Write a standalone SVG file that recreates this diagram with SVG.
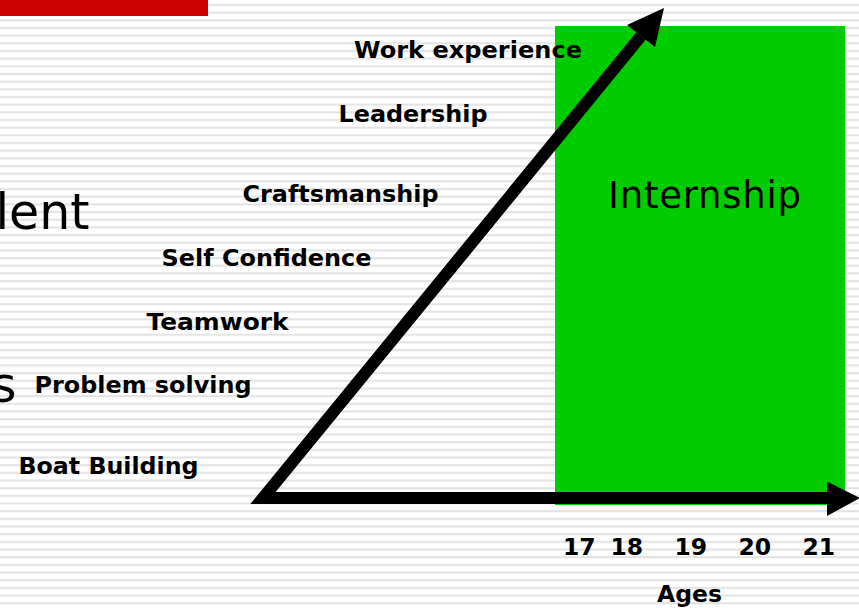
<svg xmlns="http://www.w3.org/2000/svg" width="859" height="608" viewBox="0 0 859 608">
<style>
.lbl{font-family:"DejaVu Sans","Verdana",sans-serif;font-weight:bold;font-size:23.5px;fill:#000}
.big{font-family:"DejaVu Sans","Verdana",sans-serif;font-weight:normal;fill:#000}
.ax{fill:none;stroke:#000;stroke-width:12;stroke-linejoin:miter;stroke-miterlimit:4}
</style>
<defs>
<pattern id="stripes" patternUnits="userSpaceOnUse" width="20" height="7.67">
<rect x="0" y="0" width="20" height="7.67" fill="#ffffff"/>
<rect x="0" y="4" width="20" height="2" fill="#e2e2e2"/>
</pattern>
</defs>
<rect x="0" y="0" width="859" height="608" fill="url(#stripes)"/>
<rect id="redbar" x="0" y="0" width="208" height="16" fill="#cc0000"/>
<text class="big" x="-4.6" y="229" font-size="49">lent</text>
<text class="big" x="-9" y="402" font-size="49">s</text>
<g id="internship">
<rect x="555" y="26" width="290" height="479" fill="#00cc00"/>
<text class="big" x="608" y="207.5" font-size="37" textLength="193" lengthAdjust="spacing">Internship</text>
</g>
<g id="connectors">
<path class="ax" d="M641 36 L263 498 L828 498"/>
<polygon points="664,8 655,47 627,25" fill="#000"/>
<polygon points="827,481.5 860,498 827,516" fill="#000"/>
</g>
<g id="skills">
<text id="work" class="lbl" x="354" y="57.5" textLength="228" lengthAdjust="spacingAndGlyphs">Work experience</text>
<text id="leadership" class="lbl" x="338.5" y="122" textLength="149" lengthAdjust="spacingAndGlyphs">Leadership</text>
<text id="craft" class="lbl" x="242.5" y="201.5" textLength="196" lengthAdjust="spacingAndGlyphs">Craftsmanship</text>
<text id="selfconf" class="lbl" x="161.5" y="266" textLength="210" lengthAdjust="spacingAndGlyphs">Self Confidence</text>
<text id="teamwork" class="lbl" x="146.5" y="330" textLength="142" lengthAdjust="spacingAndGlyphs">Teamwork</text>
<text id="problem" class="lbl" x="34.5" y="393" textLength="217" lengthAdjust="spacingAndGlyphs">Problem solving</text>
<text id="boat" class="lbl" x="18.5" y="473.5" textLength="180" lengthAdjust="spacingAndGlyphs">Boat Building</text>
</g>
<g id="ages">
<text class="lbl" x="563" y="555">17</text>
<text class="lbl" x="610.5" y="555">18</text>
<text class="lbl" x="674.5" y="555">19</text>
<text class="lbl" x="738.5" y="555">20</text>
<text class="lbl" x="802.5" y="555">21</text>
<text class="lbl" x="657" y="601.5">Ages</text>
</g>
</svg>
